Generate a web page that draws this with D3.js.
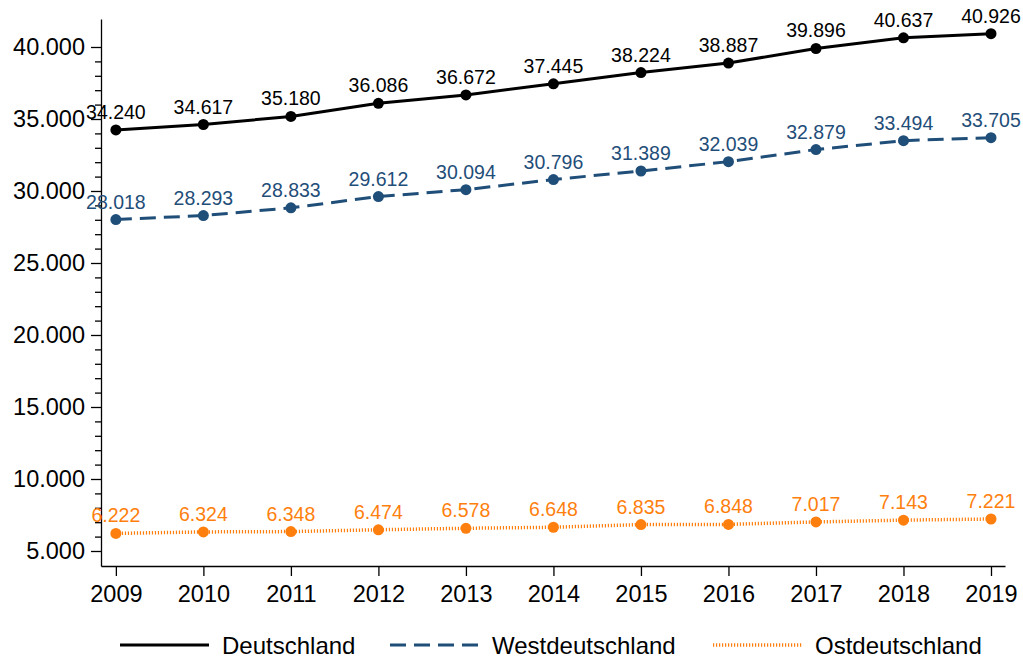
<!DOCTYPE html>
<html>
<head>
<meta charset="utf-8">
<script src="https://cdn.jsdelivr.net/npm/d3@7"></script>
<style>
  body { margin: 0; background: #fff; }
  svg { font-family: "Liberation Sans", Arial, sans-serif; }
  .axis text { font-size: 23.5px; fill: #000; }
  .axis path, .axis line { stroke: #000; stroke-width: 1.3; }
</style>
</head>
<body>
<div id="chart"></div>
<script>
// values
var years = [2009, 2010, 2011, 2012, 2013, 2014, 2015, 2016, 2017, 2018, 2019];
var deutschland = [34240, 34617, 35180, 36086, 36672, 37445, 38224, 38887, 39896, 40637, 40926];
var westdeutschland = [28018, 28293, 28833, 29612, 30094, 30796, 31389, 32039, 32879, 33494, 33705];
var ostdeutschland = [6222, 6324, 6348, 6474, 6578, 6648, 6835, 6848, 7017, 7143, 7221];
var seriesNames = ["Deutschland", "Westdeutschland", "Ostdeutschland"];
var yMajorTicks = [5000, 10000, 15000, 20000, 25000, 30000, 35000, 40000];

var svg_width = 1023, svg_height = 659;

var de = d3.formatLocale({decimal: ",", thousands: ".", grouping: [3], currency: ["", " €"]});
var fmt = de.format(",d");

var svg = d3.select("#chart").append("svg")
    .attr("width", svg_width)
    .attr("height", svg_height);

var x = d3.scaleLinear().domain([2008.83, 2019.16]).range([101, 1005]);
var y = d3.scaleLinear().domain([3958, 41944]).range([566, 19]);

// minor ticks every 1000
var minorTicks = d3.range(6000, 40000, 1000).filter(function(v) { return v % 5000 !== 0; });
svg.append("g")
    .attr("class", "axis")
    .attr("transform", "translate(101,0)")
    .call(d3.axisLeft(y).tickValues(minorTicks).tickSize(6).tickFormat(""))
    .select(".domain").remove();

svg.append("g")
    .attr("class", "axis axis--y")
    .attr("transform", "translate(101,0)")
    .call(d3.axisLeft(y).tickValues(yMajorTicks).tickSize(10).tickSizeOuter(0).tickPadding(6).tickFormat(fmt));

svg.append("g")
    .attr("class", "axis axis--x")
    .attr("transform", "translate(0,566)")
    .call(d3.axisBottom(x).tickValues(years).tickSize(10).tickSizeOuter(0).tickPadding(9).tickFormat(d3.format("d")));

var series = [
    {name: seriesNames[0], values: deutschland, color: "#000000", dash: null, width: 3},
    {name: seriesNames[1], values: westdeutschland, color: "#1f4e79", dash: "16,8", width: 3},
    {name: seriesNames[2], values: ostdeutschland, color: "#ff7f0e", dash: "1.2,1.8", width: 3.5}
];

var line = d3.line()
    .x(function(d) { return x(d.year); })
    .y(function(d) { return y(d.value); });

series.forEach(function(s) {
    var pts = years.map(function(yr, i) { return {year: yr, value: s.values[i]}; });
    var g = svg.append("g").attr("class", "series");

    g.append("path")
        .datum(pts)
        .attr("fill", "none")
        .attr("stroke", s.color)
        .attr("stroke-width", s.width)
        .attr("stroke-dasharray", s.dash)
        .attr("d", line);

    g.selectAll("circle")
        .data(pts)
      .enter().append("circle")
        .attr("cx", function(d) { return x(d.year); })
        .attr("cy", function(d) { return y(d.value); })
        .attr("r", 5.5)
        .attr("fill", s.color);

    g.selectAll("text")
        .data(pts)
      .enter().append("text")
        .attr("x", function(d) { return x(d.year); })
        .attr("y", function(d) { return y(d.value) - 11; })
        .attr("text-anchor", "middle")
        .attr("font-size", "19.5px")
        .attr("fill", s.color)
        .text(function(d) { return fmt(d.value); });
});

// legend
var legendX = [120, 390, 713];
var legend = svg.append("g").attr("class", "legend");
series.forEach(function(s, i) {
    legend.append("line")
        .attr("x1", legendX[i]).attr("x2", legendX[i] + 89)
        .attr("y1", 645).attr("y2", 645)
        .attr("stroke", s.color)
        .attr("stroke-width", s.width)
        .attr("stroke-dasharray", s.dash);
    legend.append("text")
        .attr("x", legendX[i] + 102)
        .attr("y", 654)
        .attr("font-size", "24px")
        .attr("fill", "#000")
        .text(s.name);
});
</script>
</body>
</html>
